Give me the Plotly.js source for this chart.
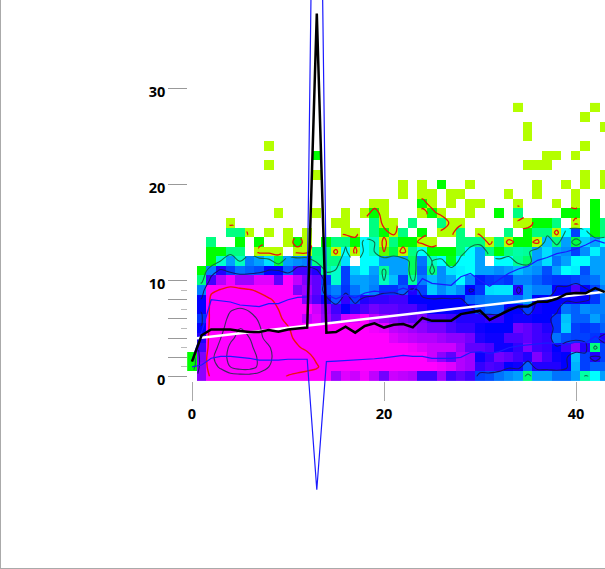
<!DOCTYPE html>
<html><head><meta charset="utf-8">
<script src="https://cdn.plot.ly/plotly-3.0.1.min.js"></script>
<style>html,body{margin:0;padding:0;background:#fff}#c{width:605px;height:569px}</style></head>
<body><div id="c"></div>
<script>
const _ = null;
// heat rows, y = 0.. ; x = 0..43 (scale 0 lime ... 7 magenta; >7 saturated core)
const r00=[_,6.1,7.8,8.2,8.5,8.5,8.5,8.4,8.2,7.9,7.4,7.2,7.1,7,7,6.25,6.75,6.6,6.9,6.5,5.9,6.6,6.5,6.4,5.5,5.5,6.25,5.5,5.75,5.5,4.5,4.4,4.1,3.9,3.75,1.9,3.75,3.75,4.1,4.1,3.75,2.3,3,3.75];
const r01=[1,6.1,8.5,9.2,10,10.5,10.5,9.8,9,8.5,8.2,8,7.8,7.6,7.1,7,7,7,7,7,7,7,7,7,7,7,6.9,6.75,6.4,6.25,5.4,5.6,5.5,5,5.1,4.25,5.25,5.25,5.25,5,3.6,4.5,4.25,4.25];
const r02=[1,6,8.8,9.5,10.3,10.8,10.6,9.8,9.2,8.6,8.2,8,7.8,7.3,7,7,7,7,7,7,7,7,7,7,7,6.6,6.1,5.75,6.4,6.25,5.1,5.4,5.9,5.75,5.5,5.25,6,5.5,5.1,5,3.5,4.5,5.25,4.5];
const r03=[_,5.5,8.5,9.3,10.2,10.6,10.3,9.5,9.1,8.5,8.1,7.6,7.3,7.2,7,7,7,7,7,7,7,7,7,6.9,6.75,6.6,6.6,6.6,6.25,5.75,5.75,5.6,5.1,5.1,5.4,6,5.5,5.4,5,5.5,6.1,5.25,2,4.5];
const r04=[_,5.25,8.4,9,9.8,10.3,10,9.2,8.7,8.2,7.7,7.3,7.1,7,7,7,7,7,7,7,7,6.75,6.6,6.5,6.4,6.4,6.25,6.1,6.1,5.9,5.25,5.1,5.1,5.6,5.6,5.75,5.5,5.4,4.1,4.4,4.5,4.5,4.6,5.25];
const r05=[_,5,8.3,8.8,9.4,10,9.6,9.1,8.5,8,7.6,7,7,7,7,7,7,7,7,6.9,6.8,6.5,6.4,6.25,6.1,5.9,5.9,5.6,5.4,5.4,5.1,5,5,5,5.9,5.75,5.5,5.25,4.6,3.4,4.5,4.6,4.5,4.25];
const r06=[_,4.6,8.2,8.5,9.3,9.6,9.3,8.9,8.2,7.7,7.2,7,6.5,6.75,6.25,5.75,6.6,6.75,7,6.5,6.25,6.1,5.9,5.75,6,5.6,5.6,5.5,5.25,5.25,5.25,5.4,5.4,5,5.1,5.1,5,5,4.6,3.5,4.25,4.25,3.75,4.1];
const r07=[_,5,8.1,8.4,8.9,9.1,8.9,8.4,8,7.5,7.2,7,7,6.6,6.1,5.5,5,5.4,5.6,5.9,5.75,5.75,5.6,5.6,5.25,5,5,5,5,5,4.5,4.25,4.25,5,5,4.5,5.1,5,5,4.1,4.25,3.9,4,4];
const r08=[_,5,7.9,8.1,8.2,8.2,8.1,8,7.6,7.3,7.1,7,6,5.6,5.1,4.25,5.4,4.5,5.25,5.4,5.4,5.5,5.5,5,5,5,5,5,5,4.25,4.1,4,4,4,4.1,3.75,5,5,5,5,5.1,5,4.6,4];
const r09=[_,4,7.2,7.6,7.8,7.8,7.6,7.3,7.1,7,7,6,6.25,5.75,4.25,4,4.6,4.1,3.75,4,4.6,4.6,4.25,5.25,4.5,3.4,3.9,3.6,3.9,5,4.6,3.25,3.2,3.2,5.25,3.75,4,4,5,5,5.6,5,4.5,4];
const r10=[_,2,5.5,6.4,6.9,6.25,6.25,6.75,6.75,5.75,7,6.5,6,5.75,4.5,2.6,4.5,3.75,3.75,3.9,2.5,3.5,4.5,2.25,4,3.5,3.9,3.75,3,3.9,4.8,4.6,4.5,4.6,4,4,4.25,4.5,4.6,4.6,4.5,4.25,4.1,3.75];
const r11=[_,1,4,5.25,4.5,4.1,4.25,4.4,5,5,4.25,5.5,5.5,5.25,2.2,2.6,4.5,3.4,3,3.75,2.2,3.75,3.75,1.7,4.25,2,3.9,3.2,3.1,3,3.75,3.75,3.9,3.75,3.5,3.75,3.9,4.4,3.75,3,3.1,4.4,3.75,3.75];
const r12=[_,_,1,2.6,3.75,2.5,4,3.75,3.25,1.5,3.75,3.9,4,2.1,2,2,3.25,_,3,3,3.75,3.75,3.75,1.7,4.1,2.5,3,1.2,3,3,3.75,_,3,3,2.2,1.8,3.75,3.25,4.1,3.75,3,3,3.75,3.75];
const r13=[_,_,1,1,2,2,_,0,0,0,_,0,0,2,2,0,3,0,3,2.5,0.5,1.5,0,2,3,1,1,1,2,3,3.75,2,1,2,2.3,2.2,3.75,3.25,3.75,3.9,4.5,3.9,3.1,3.75];
const r14=[_,_,2,_,_,1,_,1,_,_,0,1,0,_,1,2,2,1,3,2.5,0,2,1,1,0,0,_,_,2,2,2,0,2,0,1,1,0,3.5,2,3.75,1.5,3.4,3.75,3];
// sparse upper rows: [x, value] pairs
const r15=[[4,2],[5,2],[6,0],[8,0],[10,0],[12,0],[16,0],[17,0],[19,2],[20,1],[21,0],[22,2],[24,1],[26,0],[27,0],[28,2],[30,0],[33,2],[35,1],[36,2],[37,2],[38,0],[39,3],[40,4.5],[41,3],[42,1],[43,2]];
const r16=[[4,0],[15,0],[16,0],[19,2],[20,0],[21,0],[23,2],[26,2],[27,0],[28,0],[34,0],[35,0],[36,1],[37,1],[38,2],[40,0],[42,1],[43,2]];
const r17=[[9,0],[13,0],[16,0],[18,0],[19,1],[20,0],[24,0],[25,1],[26,0],[29,0],[32,1],[34,2],[39,1],[40,1],[42,1]];
const r18=[[19,0],[20,0],[24,1],[25,0],[27,0],[29,0],[30,0],[34,0],[38,0],[40,0],[42,1]];
const r19=[[22,0],[24,0],[25,0],[27,0],[28,0],[33,0],[36,0],[40,0]];
const r20=[[22,0],[24,0],[26,1],[29,0],[36,0],[39,0],[41,0],[43,0]];
const r21=[[13,0],[41,0],[43,0]];
const r22=[[8,0],[35,0],[36,0],[37,0]];
const r23=[[13,1],[37,0],[38,0],[40,0]];
const r24=[[8,0],[41,0]];
const r25=[[35,0]];
const r26=[[35,0],[43,0]];
const r27=[[41,0]];
const r28=[[34,0],[42,0]];

const xCells=[...Array(44).keys()];
const yCells=[...Array(29).keys()];
const full=[r00,r01,r02,r03,r04,r05,r06,r07,r08,r09,r10,r11,r12,r13,r14];
const sparse=[r15,r16,r17,r18,r19,r20,r21,r22,r23,r24,r25,r26,r27,r28];
const z=full.concat(sparse.map(p=>{const a=new Array(44).fill(null);p.forEach(([x,v])=>a[x]=v);return a;}));

const lineX=[...Array(44).keys()];
const meanY=[1.55,4.3,4.9,4.9,4.9,4.74,4.64,4.64,4.85,4.67,4.9,5,5.1,37.8,4.57,4.64,5.2,4.57,5.27,5.54,5.1,5.4,5.47,5.12,6.1,5.8,5.8,5.8,6.5,6.65,6.86,5.9,6.4,6.9,7.3,7.3,7.8,7.8,8.1,8.6,8.7,8.67,9.2,8.8];
const upperY=[1.7,4.6,8,7.9,7.76,7.45,7.35,7.28,7.6,7.6,8,8.25,8.3,87.4,8.5,8.1,8.5,8.2,8.7,8.9,8.8,8.85,9.2,8.9,10.2,9.7,9.6,9.5,10.4,10.75,10,9.4,10.1,10.75,11.2,11.5,12.1,12.4,12.8,13,13.3,13.7,14.2,13.9];
const lowerY=[1,1.2,1.9,2.1,2.1,2,1.9,1.7,1.7,1.7,1.8,1.8,1.8,-11.8,1.55,1.6,1.65,1.7,1.8,1.85,1.95,2.05,2.2,2.1,2.1,1.9,1.9,1.9,2,2.5,2.6,2.4,2.6,3,3.2,3.3,3.4,3.5,3.4,3.3,3.6,3.5,4.2,3.7];
const fitX=[0.5,43];
const fitY=[3.98,8.84];

const colorStops=['#b4ff00','#00ff00','#00ff80','#00ffff','#0080ff','#0000ff','#8000ff','#ff00ff'];
const contourLevels=[0.5,2.5,4.85,7.5,9,10];
const contourColors=['#e81010','#0e7048','#14146e','#f01010','#3c2a60','#3c2a60'];
const contourWidths=[1.3,1.1,1.1,1.4,1.1,1.1];
const yMajor=[0,2,4,6,8,10,20,30];
const yMajorText=['0','','','','','10','20','30'];
const yMinor=[1,3,5,7,9];
const xTicks=[0,20,40];

const traces=[{type:'heatmap',x:xCells,y:yCells,z:z,zmin:0,zmax:7,zsmooth:false,showscale:false,hoverongaps:false,
  colorscale:colorStops.map((c,i)=>[i/7,c])}];
contourLevels.forEach((lv,i)=>traces.push({type:'contour',x:xCells,y:yCells,z:z,autocontour:false,showscale:false,
  contours:{coloring:'none',start:lv,end:lv,size:1},line:{color:contourColors[i],width:contourWidths[i],smoothing:1}}));
const ln=(x,y,color,width)=>({type:'scatter',mode:'lines',x:x,y:y,line:{color:color,width:width},showlegend:false});
traces.push(ln(lineX,upperY,'#1a1aff',1.2),ln(lineX,lowerY,'#1a1aff',1.2),ln(fitX,fitY,'#ffffff',2.5),ln(lineX,meanY,'#000000',2.5));

const font={family:'"Open Sans",sans-serif',size:14.5,color:'#000',weight:700};
const layout={width:605,height:569,showlegend:false,paper_bgcolor:'#fff',plot_bgcolor:'#fff',
  margin:{l:0,r:0,t:0,b:0,pad:0},
  xaxis:{range:[-20,43.02],anchor:'free',position:(569-381.3)/569,tickmode:'array',tickvals:xTicks,ticktext:xTicks.map(String),ticks:'outside',ticklen:19,tickwidth:1,tickcolor:'#aaaaaa',
    showgrid:false,zeroline:false,showline:false,tickfont:font,automargin:false},
  yaxis:{range:[-20.05,39.22],anchor:'free',position:187.3/605,tickmode:'array',tickvals:yMajor,ticktext:yMajorText,ticks:'outside',ticklen:19,tickwidth:1,tickcolor:'#999999',ticklabelshift:3,
    minor:{tickmode:'array',tickvals:yMinor,ticks:'outside',ticklen:6,tickwidth:1,tickcolor:'#bbbbbb',showgrid:false},
    showgrid:false,zeroline:false,showline:false,tickfont:font,automargin:false},
  shapes:[{type:'line',xref:'paper',yref:'paper',x0:0,x1:0,y0:0,y1:1,line:{color:'#aaa',width:2}},
          {type:'line',xref:'paper',yref:'paper',x0:0,x1:1,y0:0,y1:0,line:{color:'#aaa',width:2}}]};
Plotly.newPlot('c',traces,layout,{displayModeBar:false,staticPlot:true});
</script></body></html>
